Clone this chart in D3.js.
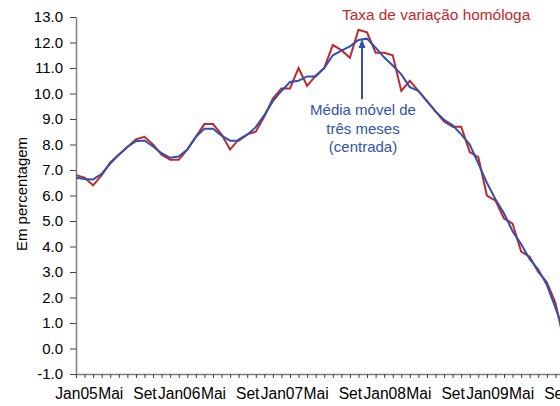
<!DOCTYPE html>
<html lang="pt">
  <head>
    <meta charset="utf-8" />
    <title>Taxa de variação homóloga</title>
    <script src="https://d3js.org/d3.v7.min.js"></script>
    <style>
      body { margin: 0; background: #fff; }
      svg { display: block; font-family: "Liberation Sans", Arial, sans-serif; }
    </style>
  </head>
  <body>
    <div id="chart"></div>
<script>
// meses (Jan05 .. Out09)
var nomesMes = ["Jan", "Fev", "Mar", "Abr", "Mai", "Jun", "Jul", "Ago", "Set", "Out", "Nov", "Dez"];
var anos = ["05", "06", "07", "08", "09"];
var nMeses = 58;

// taxa de variacao homologa (%)
var taxa = [6.8, 6.7, 6.4, 6.8, 7.3, 7.6, 7.9, 8.2, 8.3, 8.0, 7.6, 7.4,
            7.4, 7.8, 8.3, 8.8, 8.8, 8.4, 7.8, 8.2, 8.4, 8.5, 9.1, 9.8,
            10.2, 10.2, 11.0, 10.3, 10.7, 11.0, 11.9, 11.7, 11.4, 12.5, 12.4, 11.6,
            11.6, 11.5, 10.1, 10.5, 10.1, 9.7, 9.3, 8.9, 8.7, 8.7, 7.7, 7.5,
            6.0, 5.8, 5.1, 4.9, 3.8, 3.6, 3.0, 2.6, 1.8, 0.3];

// media movel de tres meses (centrada)
var media = [6.7, 6.65, 6.63, 6.85, 7.25, 7.6, 7.9, 8.13, 8.16, 7.92, 7.66, 7.48,
             7.53, 7.8, 8.3, 8.62, 8.62, 8.35, 8.15, 8.15, 8.38, 8.68, 9.15, 9.7,
             10.1, 10.45, 10.5, 10.67, 10.67, 11.0, 11.5, 11.68, 11.85, 12.1, 12.15, 11.8,
             11.42, 11.1, 10.75, 10.25, 10.1, 9.7, 9.3, 8.97, 8.75, 8.4, 8.0, 7.25,
             6.5, 5.85, 5.3, 4.6, 4.1, 3.5, 3.1, 2.5, 1.6, 0.7];

var yTicks = [-1, 0, 1, 2, 3, 4, 5, 6, 7, 8, 9, 10, 11, 12, 13];

var meses = [];
for (var k = 0; k < nMeses; k++) {
  meses.push(nomesMes[k % 12] + anos[Math.floor(k / 12)]);
}

var width = 560,
  height = 406;

var red = "#c0282e",
  blue = "#2f52ae";

var svg = d3.select("#chart")
  .append("svg")
  .attr("width", width)
  .attr("height", height);

var x = d3.scalePoint()
  .domain(meses)
  .range([76, 76 + 8.56 * (nMeses - 1)]);

var y = d3.scaleLinear()
  .domain([-1, 13])
  .range([374, 17]);

// eixo x
var xAxis = svg.append("g")
  .attr("transform", "translate(0,374)")
  .call(d3.axisBottom(x)
    .tickSizeInner(4)
    .tickSizeOuter(0)
    .tickPadding(10)
    .tickFormat(function(d) {
      var m = d.slice(0, 3);
      if (m == "Jan") return d;
      if (m == "Mai" || m == "Set") return m;
      return "";
    }));

// eixo y
var fmt = d3.format(".1f");
var yAxis = svg.append("g")
  .attr("transform", "translate(76,0)")
  .call(d3.axisLeft(y)
    .tickValues(yTicks)
    .tickSizeInner(6)
    .tickSizeOuter(0)
    .tickPadding(7)
    .tickFormat(function(d) { return fmt(d).replace("\u2212", "-"); }));

[xAxis, yAxis].forEach(function(a) {
  a.select(".domain").attr("stroke", "#808080").attr("stroke-width", 1.5);
  a.selectAll(".tick line").attr("stroke", "#404040");
  a.selectAll(".tick text")
    .attr("fill", "#000")
    .style("font-size", "15px")
    .style("font-family", "'Liberation Sans', Arial, sans-serif");
});
xAxis.selectAll(".tick text").style("font-size", "15.6px");

svg.append("text")
  .attr("transform", "translate(27,194) rotate(-90)")
  .attr("text-anchor", "middle")
  .style("font-size", "15px")
  .text("Em percentagem");

var line = d3.line()
  .x(function(d, i) { return x(meses[i]); })
  .y(function(d) { return y(d); });

svg.append("path")
  .datum(taxa)
  .attr("fill", "none")
  .attr("stroke", red)
  .attr("stroke-width", 2)
  .attr("d", line);

svg.append("path")
  .datum(media)
  .attr("fill", "none")
  .attr("stroke", blue)
  .attr("stroke-width", 2)
  .attr("d", line);

// anotacoes
svg.append("text")
  .attr("x", 342)
  .attr("y", 20)
  .attr("fill", red)
  .style("font-size", "15.4px")
  .text("Taxa de variação homóloga");

var nota = ["Média móvel de", "três meses", "(centrada)"];
svg.append("g")
  .selectAll("text")
  .data(nota)
  .enter().append("text")
  .attr("x", 363)
  .attr("y", function(d, i) { return 115 + i * 18.5; })
  .attr("text-anchor", "middle")
  .attr("fill", blue)
  .style("font-size", "15px")
  .text(function(d) { return d; });

svg.append("line")
  .attr("x1", 362).attr("x2", 362)
  .attr("y1", 99).attr("y2", 46)
  .attr("stroke", blue)
  .attr("stroke-width", 2);

svg.append("path")
  .attr("d", "M362,39 L358.5,48 L365.5,48 Z")
  .attr("fill", blue);
</script>
  </body>
</html>
